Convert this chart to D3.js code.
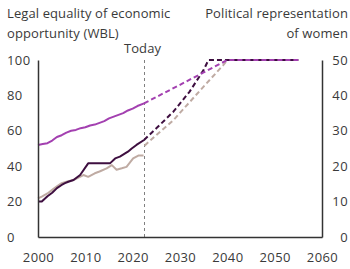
<!DOCTYPE html>
<html>
<head>
<meta charset="utf-8">
<script src="https://cdn.jsdelivr.net/npm/d3@7"></script>
<style>
  html, body { margin: 0; padding: 0; background: #fff; }
  svg { display: block; }
  text { font-family: "Open Sans", sans-serif; fill: #3a3a3a; letter-spacing: 0.1px; }
</style>
</head>
<body>
<svg id="chart" width="350" height="269"></svg>
<script>
// ---- data ----
const xTicks = [2000, 2010, 2020, 2030, 2040, 2050, 2060];
const leftTicks = [0, 20, 40, 60, 80, 100];
const rightTicks = [0, 10, 20, 30, 40, 50];
const todayYear = 2022.5;

// WBL index (left axis)
const wblYears = [2000,2001,2002,2003,2004,2005,2006,2007,2008,2009,2010,2011,2012,2013,2014,2015,2016,2017,2018,2019,2020,2021,2022.4];
const wblValues = [52,52.5,53,54.5,56.5,57.5,59,60,60.5,61.5,62,63,63.5,64.5,65.5,67,68,69,70,71.5,72.5,74,75.5];
const wblProjYears = [2022.4, 2030, 2035, 2040, 2055];
const wblProjValues = [75.5, 86, 93, 100, 100];

// Women in parliament (right axis)
const parlYears = [2000,2000.8,2002,2003,2004,2005,2005.7,2006.4,2007.5,2008.9,2010.6,2015.2,2016.3,2017.3,2018.4,2019,2019.8,2020.8,2022.4];
const parlValues = [10,10,11.5,12.5,13.8,14.7,15.2,15.6,16.1,17.5,20.8,20.8,22.2,22.7,23.6,24.1,25,26,27.4];
const parlProjYears = [2022.4, 2025, 2028.6, 2032, 2035, 2036, 2055];
const parlProjValues = [27.4, 30.7, 35.4, 41, 47.2, 50, 50];

// Women ministers (right axis)
const minYears = [2000,2000.8,2002,2003,2004,2005,2006,2007.5,2009.6,2010.6,2012,2013,2014.5,2015.6,2016.6,2017.7,2018.7,2020.1,2021.2,2022.3];
const minValues = [10.9,11.4,12.3,13.3,14.3,15.2,15.6,16.1,17.5,17,18,18.5,19.4,20.3,19,19.4,19.8,22.2,23,23];
const minProjYears = [2022.5, 2025, 2028.6, 2032.1, 2035.6, 2039.1, 2040, 2055];
const minProjValues = [25.8, 28.8, 33, 38.2, 43.4, 48.5, 50, 50];

const colors = { wbl: "#a340b0", parl: "#3e0f40", min: "#bfaba3" };

// ---- chart ----
const svg = d3.select("#chart");
const x = d3.scaleLinear().domain([2000, 2060]).range([38, 322]);
const yL = d3.scaleLinear().domain([0, 100]).range([237, 60]);
const yR = d3.scaleLinear().domain([0, 50]).range([237, 60]);

// today line
svg.append("line")
  .attr("x1", x(todayYear)).attr("x2", x(todayYear))
  .attr("y1", yL(100)).attr("y2", yL(0))
  .attr("stroke", "#808080").attr("stroke-width", 1)
  .attr("stroke-dasharray", "3,3");
svg.append("text")
  .attr("x", x(todayYear) - 2).attr("y", 52.5)
  .attr("text-anchor", "middle").attr("font-size", 13)
  .text("Today");

function drawLine(xs, ys, yScale, color, dashed) {
  const pts = xs.map((d, i) => [d, ys[i]]);
  const line = d3.line().x(d => x(d[0])).y(d => yScale(d[1]));
  svg.append("path")
    .attr("d", line(pts))
    .attr("fill", "none")
    .attr("stroke", color)
    .attr("stroke-width", 2)
    .attr("stroke-linejoin", "round")
    .attr("stroke-dasharray", dashed ? "5,3" : null);
}

drawLine(minYears, minValues, yR, colors.min, false);
drawLine(parlYears, parlValues, yR, colors.parl, false);
drawLine(wblYears, wblValues, yL, colors.wbl, false);
drawLine(minProjYears, minProjValues, yR, colors.min, true);
drawLine(parlProjYears, parlProjValues, yR, colors.parl, true);
drawLine(wblProjYears, wblProjValues, yL, colors.wbl, true);

// axes
const axisColor = "#333";
const gL = svg.append("g").attr("transform", `translate(${x(2000)},0)`)
  .call(d3.axisLeft(yL).tickValues(leftTicks).tickSize(0).tickFormat(d3.format("d")));
const gR = svg.append("g").attr("transform", `translate(${x(2060)},0)`)
  .call(d3.axisRight(yR).tickValues(rightTicks).tickSize(0).tickFormat(d3.format("d")));
const gB = svg.append("g").attr("transform", `translate(0,${yL(0)})`)
  .call(d3.axisBottom(x).tickValues(xTicks).tickSize(0).tickFormat(d3.format("d")));

[gL, gR, gB].forEach(g => {
  g.select(".domain").attr("stroke", axisColor).attr("stroke-width", 1.5);
  g.selectAll("text").attr("font-size", 13).attr("fill", "#3a3a3a")
    .style("font-family", "'Open Sans', sans-serif").style("letter-spacing", "0.4px");
});
gL.selectAll("text").attr("text-anchor", "start").attr("x", 7 - x(2000));
gR.selectAll("text").attr("text-anchor", "end").attr("x", 348 - x(2060));
gB.selectAll("text").attr("dy", null).attr("y", 25);

// titles
svg.append("text").attr("x", 7).attr("y", 17.5).attr("font-size", 13).text("Legal equality of economic");
svg.append("text").attr("x", 7).attr("y", 37.5).attr("font-size", 13).text("opportunity (WBL)");
svg.append("text").attr("x", 348).attr("y", 17.5).attr("font-size", 13).attr("text-anchor", "end").text("Political representation");
svg.append("text").attr("x", 348).attr("y", 37.5).attr("font-size", 13).attr("text-anchor", "end").text("of women");
</script>
</body>
</html>
